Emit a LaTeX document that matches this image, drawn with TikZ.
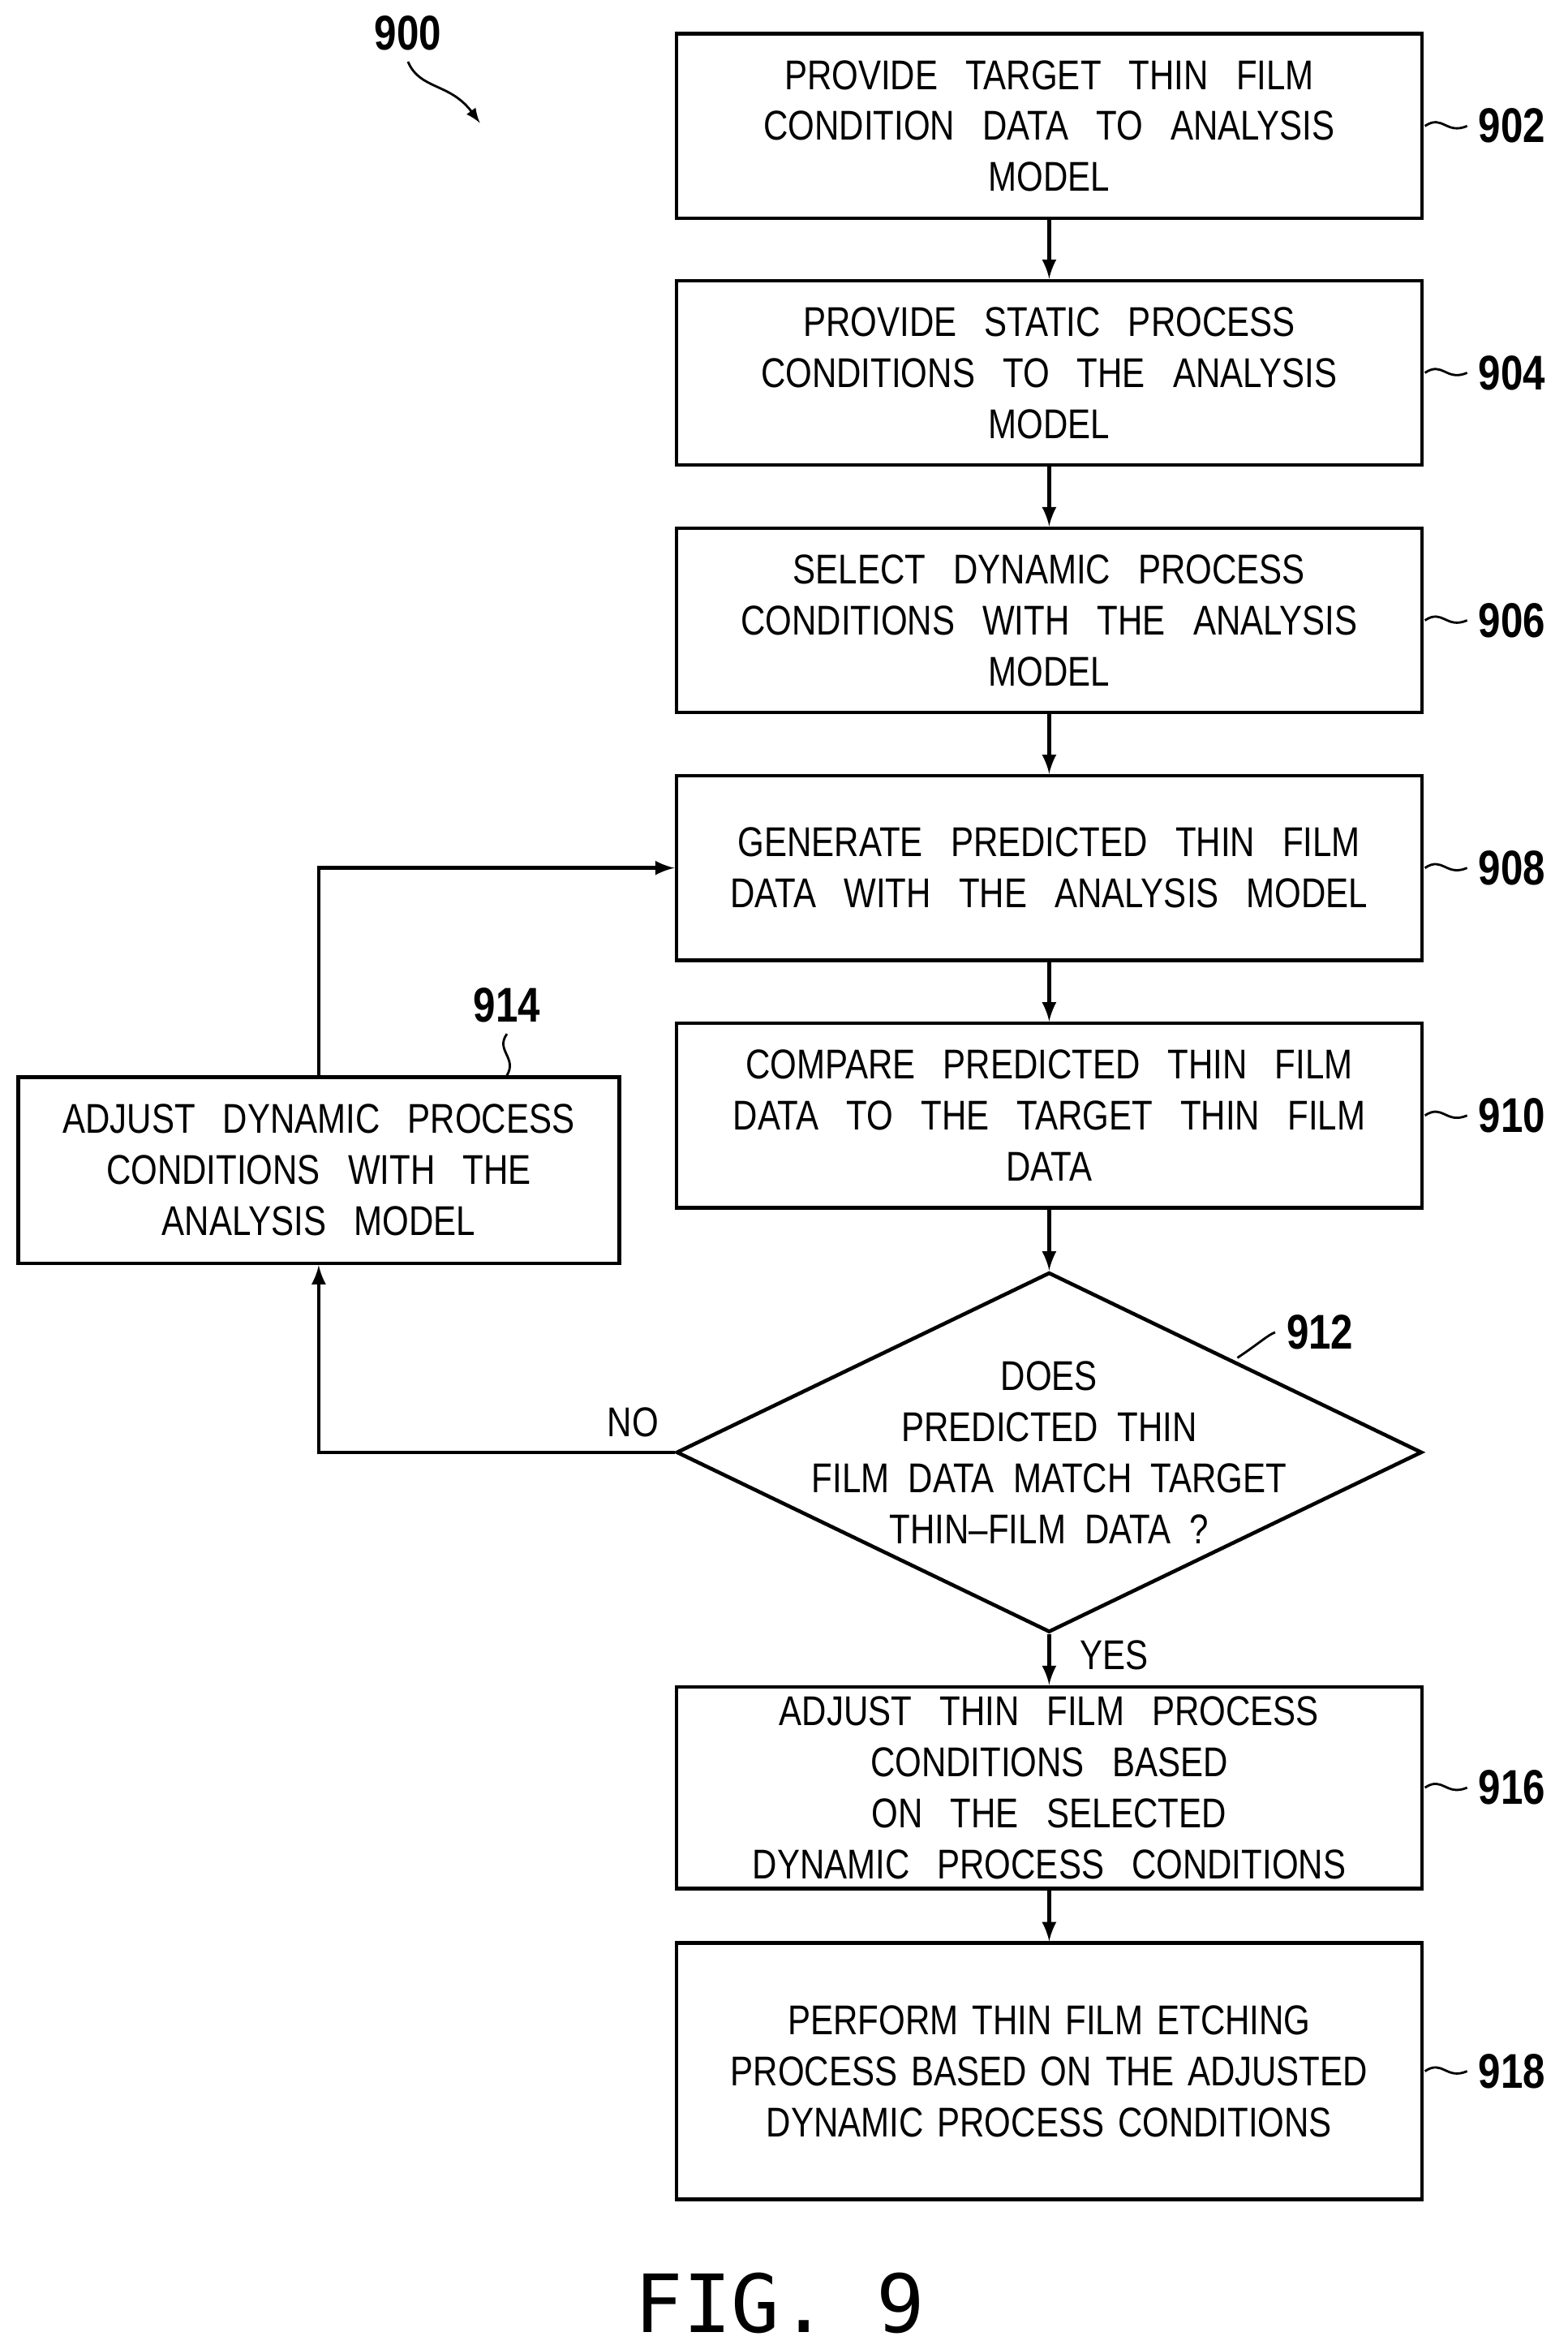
\documentclass[tikz,border=0pt]{standalone}
\usepackage{fontspec}
\setmainfont{Liberation Sans}[FakeStretch=0.82]
\setmonofont{DejaVu Sans Mono}
\usetikzlibrary{calc,shapes.geometric,positioning}

\begin{document}
\begin{tikzpicture}[x=0.01839cm,y=-0.01839cm,line width=1.3pt,
		stage/.style={draw,minimum width=9.14cm,minimum height=2.26cm,text width=8.9cm,inner xsep=0pt,align=center,font=\fontsize{14.5}{17.8}\selectfont},
		tag/.style={font=\fontsize{17}{20}\selectfont\bfseries},
		flow/.style={-latex}]
		
		\useasboundingbox (0,0) rectangle (1045,1563);
		
		\node (s902) at (699.5,84) [stage] {PROVIDE\ \ TARGET\ \ THIN\ \ FILM\\CONDITION\ \ DATA\ \ TO\ \ ANALYSIS\\MODEL};
		\node (s904) at (699.5,248.5) [stage] {PROVIDE\ \ STATIC\ \ PROCESS\\CONDITIONS\ \ TO\ \ THE\ \ ANALYSIS\\MODEL};
		\node (s906) at (699.5,413.5) [stage] {SELECT\ \ DYNAMIC\ \ PROCESS\\CONDITIONS\ \ WITH\ \ THE\ \ ANALYSIS\\MODEL};
		\node (s908) at (699.5,578.5) [stage] {GENERATE\ \ PREDICTED\ \ THIN\ \ FILM\\DATA\ \ WITH\ \ THE\ \ ANALYSIS\ \ MODEL};
		\node (s910) at (699.5,743.5) [stage] {COMPARE\ \ PREDICTED\ \ THIN\ \ FILM\\DATA\ \ TO\ \ THE\ \ TARGET\ \ THIN\ \ FILM\\DATA};
		\node (s912) at (699.5,968) [draw,diamond,minimum width=9.14cm,minimum height=4.41cm,inner sep=0pt] {};
		\node (t912) at (s912) [align=center,font=\fontsize{14.5}{17.8}\selectfont] {DOES\\PREDICTED\ \ THIN\\FILM\ \ DATA\ \ MATCH\ \ TARGET\\THIN--FILM\ \ DATA\ \ ?};
		\node (s916) at (699.5,1191.5) [stage] {ADJUST\ \ THIN\ \ FILM\ \ PROCESS\\CONDITIONS\ \ BASED\ \ ON\ \ THE\ \ SELECTED\\DYNAMIC\ \ PROCESS\ \ CONDITIONS};
		\node (s918) at (699.5,1380.5) [stage,minimum height=3.14cm] {PERFORM THIN FILM ETCHING\\PROCESS BASED ON THE ADJUSTED\\DYNAMIC PROCESS CONDITIONS};
		\node (s914) at (212.5,780) [stage,minimum width=7.37cm,text width=7.1cm,minimum height=2.28cm] {ADJUST\ \ DYNAMIC\ \ PROCESS\\CONDITIONS\ \ WITH\ \ THE\\ANALYSIS\ \ MODEL};
		
		% main flow
		\draw[flow] (s902) -- (s904);
		\draw[flow] (s904) -- (s906);
		\draw[flow] (s906) -- (s908);
		\draw[flow] (s908) -- (s910);
		\draw[flow] (s910) -- (s912);
		\draw[flow] (s912) -- (s916);
		\draw[flow] (s916) -- (s918);
		\draw[flow] (s912.west) -| (s914);
		\draw[flow] (s914.north) |- (s908.west);
		
		\node (no) at (422,948) [font=\fontsize{14.5}{17.8}\selectfont] {NO};
		\node (yes) at (743,1103) [font=\fontsize{14.5}{17.8}\selectfont] {YES};
		
		% reference numbers
		\foreach \n/\y in {902/84, 904/248.5, 906/413.5, 908/578.5, 910/743.5, 916/1191.5, 918/1380.5} {
			\node (r\n) at (1008,\y) [tag] {\n};
			\coordinate (c\n) at (950,\y);
			\draw[line width=0.8pt] (c\n) .. controls (962,\y-8) and (964,\y+6) .. (r\n.west);
		}
		\node (r900) at (272,22) [tag] {900};
		\coordinate (c900) at (320,82);
		\draw[line width=0.8pt,-latex] (r900.south) .. controls (280,60) and (300,55) .. (c900);
		\node (r914) at (338,670) [tag] {914};
		\draw[line width=0.8pt] (r914.south) .. controls (330,700) and (345,705) .. (s914.north -| r914);
		\node (r912) at (880,888) [tag] {912};
		\coordinate (c912) at (825,905);
		\draw[line width=0.8pt] (c912) .. controls (840,895) and (845,890) .. (r912.west);
		
		\node (fig) at (520,1535) [font=\fontsize{28}{32}\selectfont\ttfamily] {FIG.\ 9};
	\end{tikzpicture}
\end{document}
